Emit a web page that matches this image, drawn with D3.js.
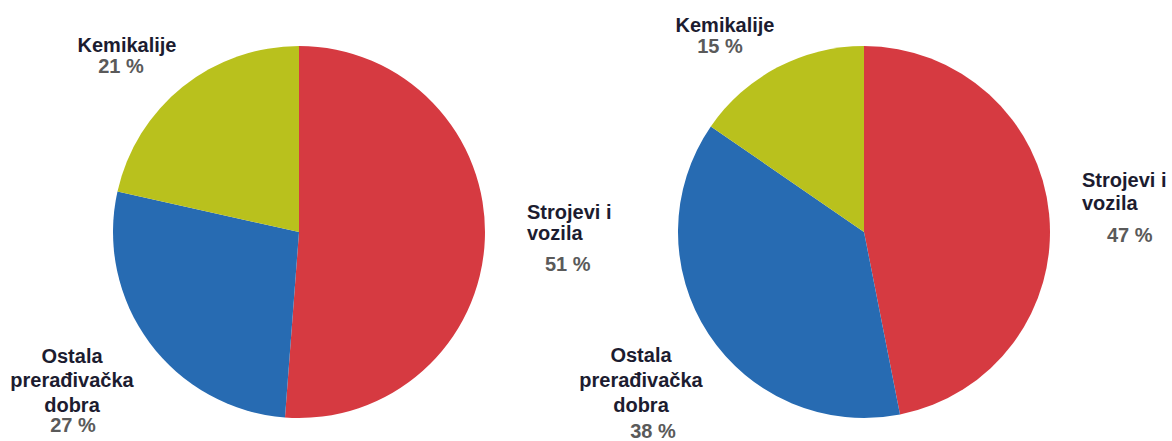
<!DOCTYPE html>
<html>
<head>
<meta charset="utf-8">
<script src="https://cdn.jsdelivr.net/npm/d3@7"></script>
<style>
  body { margin: 0; background: #fff; }
  svg { display: block; }
</style>
</head>
<body>
<svg id="chart" width="1172" height="441"></svg>
<script>
// shares (labels show rounded values)
var categories = ["Strojevi i vozila", "Ostala prerađivačka dobra", "Kemikalije"];
var leftValues = [51.2, 27.3, 21.5];
var rightValues = [46.9, 37.7, 15.4];
var leftLabels = ["51 %", "27 %", "21 %"];
var rightLabels = ["47 %", "38 %", "15 %"];
var nameLines = [["Strojevi i", "vozila"], ["Ostala", "prerađivačka", "dobra"], ["Kemikalije"]];

var colors = ["#d63a41", "#276bb2", "#b9c11d"];

var svg = d3.select("#chart");
var radius = 186;

var pie = d3.pie().sort(null).value(d => d);
var arc = d3.arc().innerRadius(0).outerRadius(radius);

var font = "bold 20px 'Liberation Sans', Arial, sans-serif";

// label placement relative to pie centre: names (anchor, x, baselines), percent (x, baseline)
var pies = [
  {cx: 299, cy: 232, values: leftValues, pct: leftLabels,
   labels: [
     {anchor: "start", x: 228, ys: [-13, 8], px: 246, py: 39, panchor: "start"},
     {anchor: "middle", x: -227, ys: [131, 155, 180], px: -226, py: 200, panchor: "middle"},
     {anchor: "middle", x: -172, ys: [-180], px: -178, py: -159, panchor: "middle"}
   ]},
  {cx: 864, cy: 232, values: rightValues, pct: rightLabels,
   labels: [
     {anchor: "start", x: 218, ys: [-45, -22], px: 243, py: 10, panchor: "start"},
     {anchor: "middle", x: -223, ys: [130, 155, 180], px: -211, py: 206, panchor: "middle"},
     {anchor: "middle", x: -139, ys: [-200], px: -144, py: -179, panchor: "middle"}
   ]}
];

pies.forEach(function(p) {
  var g = svg.append("g")
      .attr("transform", "translate(" + p.cx + "," + p.cy + ")");

  g.selectAll("path")
    .data(pie(p.values))
    .join("path")
      .attr("d", arc)
      .attr("fill", (d, i) => colors[i]);

  p.labels.forEach(function(l, i) {
    var t = g.append("text")
        .attr("text-anchor", l.anchor)
        .style("font", font)
        .attr("fill", "#1c1c30");
    t.selectAll("tspan")
      .data(nameLines[i])
      .join("tspan")
        .attr("x", l.x)
        .attr("y", (d, j) => l.ys[j])
        .text(d => d);

    g.append("text")
        .attr("x", l.px)
        .attr("y", l.py)
        .attr("text-anchor", l.panchor)
        .style("font", font)
        .attr("fill", "#5a5a5a")
        .text(p.pct[i]);
  });
});
</script>
</body>
</html>
